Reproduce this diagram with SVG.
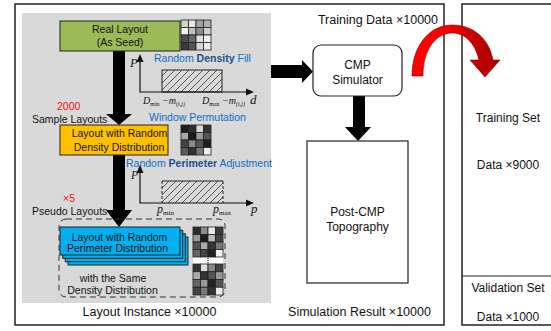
<svg xmlns="http://www.w3.org/2000/svg" width="551" height="331" viewBox="0 0 551 331">
<defs>
<style>
.t{font-family:"Liberation Sans",Arial,sans-serif;fill:#111}
.s{font-size:10.5px}
.m{font-size:12.5px}
.b{font-family:"Liberation Sans",Arial,sans-serif;font-size:10.5px;fill:#0a70c0}
.bb{font-weight:bold;fill:#17508f}
.r{font-family:"Liberation Sans",Arial,sans-serif;font-size:10.5px;fill:#ee1111}
.it{font-family:"Liberation Serif","Times New Roman",serif;font-style:italic;fill:#111}
.up{font-family:"Liberation Serif","Times New Roman",serif;fill:#111}
.box{stroke:#222;stroke-width:1}
.frame{fill:#fff;stroke:#222;stroke-width:1.5}
.ax{stroke:#111;stroke-width:1.2;fill:none}
.gl{stroke:#222;stroke-width:0.8}
.blk{fill:#000}
</style>
<pattern id="hatch" patternUnits="userSpaceOnUse" width="7" height="7">
<path d="M0,7 L7,0 M-1,1 L1,-1 M6,8 L8,6" stroke="#333" stroke-width="0.8"/>
</pattern>
<linearGradient id="redg" gradientUnits="userSpaceOnUse" x1="412" y1="0" x2="500" y2="0">
<stop offset="0" stop-color="#ff0000"/>
<stop offset="0.35" stop-color="#f80000"/>
<stop offset="1" stop-color="#a00000"/>
</linearGradient>
</defs>

<g id="training-data-frame">
<rect class="frame" x="15" y="4" width="429" height="321"/>
<text class="t" x="438" y="24" font-size="12.5" text-anchor="end">Training Data ×10000</text>
<text class="t m" x="359.5" y="316" text-anchor="middle">Simulation Result ×10000</text>
</g>

<g id="dataset-split">
<rect class="frame" x="462" y="4" width="100" height="321"/>
<line x1="462" y1="276" x2="551" y2="276" stroke="#222" stroke-width="1.2"/>
<text class="t" x="508" y="122" font-size="12" text-anchor="middle">Training Set</text>
<text class="t" x="508" y="169" font-size="12" text-anchor="middle">Data ×9000</text>
<text class="t" x="508" y="292" font-size="12" text-anchor="middle">Validation Set</text>
<text class="t" x="508" y="321" font-size="12" text-anchor="middle">Data ×1000</text>
</g>

<g id="layout-instance-panel">
<rect x="22" y="13" width="249" height="290" fill="#d9d9d9"/>
<text class="t m" x="149.5" y="316" text-anchor="middle">Layout Instance ×10000</text>
</g>

<g id="connectors">
<polygon class="blk" points="113,51 125,51 125,114 132,114 119,125 106,114 113,114"/>
<polygon class="blk" points="113,155 125,155 125,210 132,210 119,227 106,210 113,210"/>
<polygon class="blk" points="271,65 302,65 302,60 313,71.5 302,83 302,78 271,78"/>
<polygon class="blk" points="353,96 365,96 365,127 371,127 358,141 345,127 353,127"/>
<path d="M412,76 C412,45 430,25 452,25 C473,25 489,38 493,60 L500,60 L485,77 L470,60 L479,60 C475,43 465,33 452,33 C437,33 423,48 423,76 Z" fill="url(#redg)" stroke="#8b0000" stroke-width="0.6"/>
</g>

<g id="real-layout">
<rect class="box" x="60" y="21" width="120" height="30" fill="#9bbb59"/>
<text class="t s" x="120" y="33" text-anchor="middle">Real Layout</text>
<text class="t s" x="120" y="46" text-anchor="middle">(As Seed)</text>
<g class="gl">
<rect x="181" y="20" width="7.5" height="7.5" fill="#d0d0d0"/><rect x="188.5" y="20" width="7.5" height="7.5" fill="#e6e6e6"/><rect x="196" y="20" width="7.5" height="7.5" fill="#a0a0a0"/><rect x="203.5" y="20" width="7.5" height="7.5" fill="#b0b0b0"/>
<rect x="181" y="27.5" width="7.5" height="7.5" fill="#f2f2f2"/><rect x="188.5" y="27.5" width="7.5" height="7.5" fill="#bfbfbf"/><rect x="196" y="27.5" width="7.5" height="7.5" fill="#8c8c8c"/><rect x="203.5" y="27.5" width="7.5" height="7.5" fill="#d0d0d0"/>
<rect x="181" y="35" width="7.5" height="7.5" fill="#4d4d4d"/><rect x="188.5" y="35" width="7.5" height="7.5" fill="#666"/><rect x="196" y="35" width="7.5" height="7.5" fill="#e0e0e0"/><rect x="203.5" y="35" width="7.5" height="7.5" fill="#f0f0f0"/>
<rect x="181" y="42.5" width="7.5" height="7.5" fill="#3a3a3a"/><rect x="188.5" y="42.5" width="7.5" height="7.5" fill="#555"/><rect x="196" y="42.5" width="7.5" height="7.5" fill="#d8d8d8"/><rect x="203.5" y="42.5" width="7.5" height="7.5" fill="#ededed"/>
</g>
</g>

<g id="density-chart">
<text class="b" x="154" y="62">Random <tspan class="bb">Density</tspan> Fill</text>
<rect x="162" y="70" width="60" height="22" fill="url(#hatch)" stroke="#222" stroke-width="1"/>
<path class="ax" d="M140,60 V92 H247"/>
<polygon points="140,54 136.5,62 143.5,62" fill="#111"/>
<polygon points="254,92 246,88.5 246,95.5" fill="#111"/>
<text class="it" x="130" y="67" font-size="12.5">P</text>
<text class="it" x="143" y="104" font-size="10">D<tspan class="up" font-size="6" font-style="normal" dy="2">min</tspan><tspan dy="-2" font-size="10"> −m</tspan><tspan font-size="6" dy="2">(i,j)</tspan></text>
<text class="it" x="202" y="104" font-size="10">D<tspan class="up" font-size="6" font-style="normal" dy="2">max</tspan><tspan dy="-2" font-size="10"> −m</tspan><tspan font-size="6" dy="2">(i,j)</tspan></text>
<text class="it" x="250" y="104" font-size="13">d</text>
</g>

<g id="sample-layouts-label">
<text class="r" x="57" y="110">2000</text>
<text class="t s" x="32" y="123">Sample Layouts</text>
<text class="b" x="149" y="121">Window Permutation</text>
</g>

<g id="random-density-layout">
<rect class="box" x="60" y="125" width="108" height="30" fill="#ffc000"/>
<text class="t s" x="119.5" y="137" text-anchor="middle">Layout with Random</text>
<text class="t s" x="119" y="151" text-anchor="middle">Density Distribution</text>
<g class="gl">
<rect x="181" y="125" width="7.5" height="7.5" fill="#1e1e1e"/><rect x="188.5" y="125" width="7.5" height="7.5" fill="#2e2e2e"/><rect x="196" y="125" width="7.5" height="7.5" fill="#d8d8d8"/><rect x="203.5" y="125" width="7.5" height="7.5" fill="#333"/>
<rect x="181" y="132.5" width="7.5" height="7.5" fill="#a8a8a8"/><rect x="188.5" y="132.5" width="7.5" height="7.5" fill="#1a1a1a"/><rect x="196" y="132.5" width="7.5" height="7.5" fill="#999"/><rect x="203.5" y="132.5" width="7.5" height="7.5" fill="#555"/>
<rect x="181" y="140" width="7.5" height="7.5" fill="#444"/><rect x="188.5" y="140" width="7.5" height="7.5" fill="#8a8a8a"/><rect x="196" y="140" width="7.5" height="7.5" fill="#555"/><rect x="203.5" y="140" width="7.5" height="7.5" fill="#1e1e1e"/>
<rect x="181" y="147.5" width="7.5" height="7.5" fill="#5a5a5a"/><rect x="188.5" y="147.5" width="7.5" height="7.5" fill="#333"/><rect x="196" y="147.5" width="7.5" height="7.5" fill="#777"/><rect x="203.5" y="147.5" width="7.5" height="7.5" fill="#eee"/>
</g>
</g>

<g id="perimeter-chart">
<text class="b" x="126" y="166.5">Random <tspan class="bb">Perimeter</tspan> Adjustment</text>
<rect x="162" y="181" width="61" height="22" fill="url(#hatch)"/>
<line x1="162" y1="181" x2="223" y2="181" stroke="#222" stroke-width="1"/>
<line x1="162" y1="181" x2="162" y2="203" stroke="#222" stroke-width="1" stroke-dasharray="3,2"/>
<line x1="223" y1="181" x2="223" y2="203" stroke="#222" stroke-width="1" stroke-dasharray="3,2"/>
<path class="ax" d="M140,171 V203 H247"/>
<polygon points="140,165 136.5,173 143.5,173" fill="#111"/>
<polygon points="254,203 246,199.5 246,206.5" fill="#111"/>
<text class="it" x="131" y="179" font-size="11.5">P</text>
<text class="it" x="157" y="213" font-size="12">p<tspan class="up" font-style="normal" font-size="7" dy="2">min</tspan></text>
<text class="it" x="213" y="213" font-size="12">p<tspan class="up" font-style="normal" font-size="7" dy="2">max</tspan></text>
<text class="it" x="251" y="213" font-size="13">p</text>
</g>

<g id="pseudo-layouts-label">
<text class="r" x="63" y="202">×5</text>
<text class="t s" x="32" y="215">Pseudo Layouts</text>
</g>

<g id="same-density-group">
<rect x="59" y="219" width="166" height="78" rx="7" fill="none" stroke="#333" stroke-width="1" stroke-dasharray="6,4"/>
<text class="t s" x="113" y="282" text-anchor="middle">with the Same</text>
<text class="t s" x="112.5" y="294" text-anchor="middle">Density Distribution</text>
</g>

<g id="random-perimeter-layouts">
<rect class="box" x="68" y="237" width="120" height="28" fill="#00b0f0"/>
<rect class="box" x="65.3" y="233.7" width="120" height="28" fill="#00b0f0"/>
<rect class="box" x="62.7" y="230.3" width="120" height="28" fill="#00b0f0"/>
<rect class="box" x="60" y="227" width="120" height="28" fill="#00b0f0"/>
<text class="t s" x="119.5" y="241" text-anchor="middle">Layout with Random</text>
<text class="t s" x="117.5" y="252" text-anchor="middle">Perimeter Distribution</text>
</g>

<g id="pseudo-layout-grids">
<rect x="193" y="257" width="30" height="7" fill="#fff"/>
<line x1="208" y1="258" x2="208" y2="263" stroke="#222" stroke-width="1.2" stroke-dasharray="1,1"/>
<g class="gl">
<rect x="193" y="227" width="7.5" height="7.5" fill="#2b2b2b"/><rect x="200.5" y="227" width="7.5" height="7.5" fill="#8a8a8a"/><rect x="208" y="227" width="7.5" height="7.5" fill="#e8e8e8"/><rect x="215.5" y="227" width="7.5" height="7.5" fill="#3a3a3a"/>
<rect x="193" y="234.5" width="7.5" height="7.5" fill="#999"/><rect x="200.5" y="234.5" width="7.5" height="7.5" fill="#1e1e1e"/><rect x="208" y="234.5" width="7.5" height="7.5" fill="#bbb"/><rect x="215.5" y="234.5" width="7.5" height="7.5" fill="#444"/>
<rect x="193" y="242" width="7.5" height="7.5" fill="#555"/><rect x="200.5" y="242" width="7.5" height="7.5" fill="#aaa"/><rect x="208" y="242" width="7.5" height="7.5" fill="#333"/><rect x="215.5" y="242" width="7.5" height="7.5" fill="#777"/>
<rect x="193" y="249.5" width="7.5" height="7.5" fill="#666"/><rect x="200.5" y="249.5" width="7.5" height="7.5" fill="#444"/><rect x="208" y="249.5" width="7.5" height="7.5" fill="#222"/><rect x="215.5" y="249.5" width="7.5" height="7.5" fill="#f0f0f0"/>
<rect x="193" y="264" width="7.5" height="7.75" fill="#333"/><rect x="200.5" y="264" width="7.5" height="7.75" fill="#ddd"/><rect x="208" y="264" width="7.5" height="7.75" fill="#888"/><rect x="215.5" y="264" width="7.5" height="7.75" fill="#444"/>
<rect x="193" y="271.75" width="7.5" height="7.75" fill="#aaa"/><rect x="200.5" y="271.75" width="7.5" height="7.75" fill="#333"/><rect x="208" y="271.75" width="7.5" height="7.75" fill="#555"/><rect x="215.5" y="271.75" width="7.5" height="7.75" fill="#999"/>
<rect x="193" y="279.5" width="7.5" height="7.75" fill="#666"/><rect x="200.5" y="279.5" width="7.5" height="7.75" fill="#999"/><rect x="208" y="279.5" width="7.5" height="7.75" fill="#222"/><rect x="215.5" y="279.5" width="7.5" height="7.75" fill="#555"/>
<rect x="193" y="287.25" width="7.5" height="7.75" fill="#444"/><rect x="200.5" y="287.25" width="7.5" height="7.75" fill="#777"/><rect x="208" y="287.25" width="7.5" height="7.75" fill="#333"/><rect x="215.5" y="287.25" width="7.5" height="7.75" fill="#eee"/>
</g>
</g>

<g id="cmp-simulator">
<rect x="313" y="45" width="89" height="51" rx="8" fill="#fff" stroke="#222" stroke-width="1.2"/>
<text class="t" x="357.5" y="69" font-size="12" text-anchor="middle">CMP</text>
<text class="t" x="357.5" y="84" font-size="12" text-anchor="middle">Simulator</text>
</g>

<g id="post-cmp-topography">
<rect x="307" y="141" width="101" height="142" fill="#fff" stroke="#222" stroke-width="1.2"/>
<text class="t" x="357.5" y="216" font-size="12" text-anchor="middle">Post-CMP</text>
<text class="t" x="357.5" y="231" font-size="12" text-anchor="middle">Topography</text>
</g>
</svg>
